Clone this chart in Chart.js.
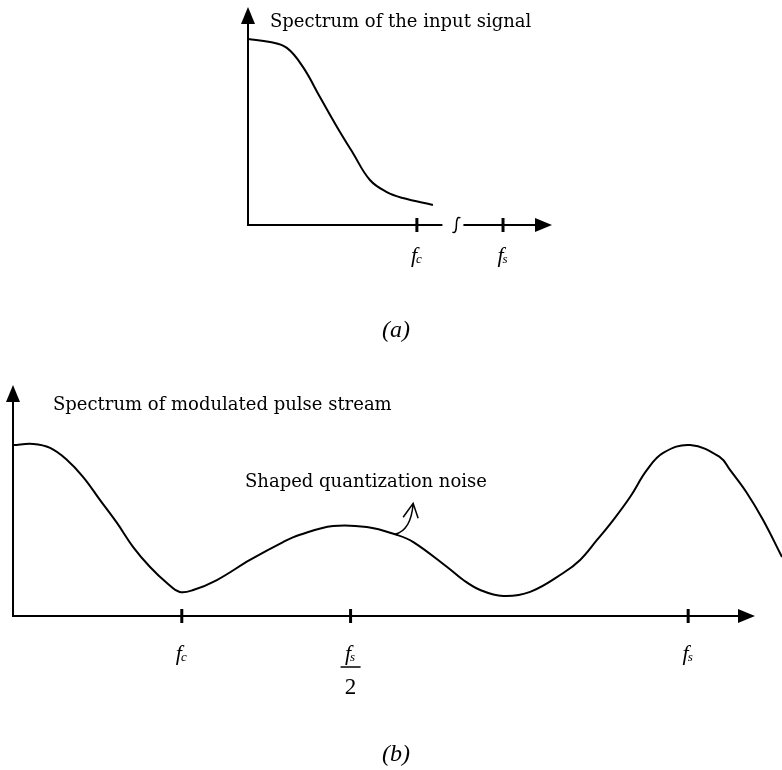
<!DOCTYPE html>
<html>
<head>
<meta charset="utf-8">
<script src="https://cdn.jsdelivr.net/npm/chart.js@4.4.1/dist/chart.umd.min.js"></script>
<style>
    body { margin: 0; background: #fff; }
    #quadro { position: relative; width: 782px; height: 770px; }
    #quadro canvas { position: absolute; left: 0; top: 0; }
</style>
</head>
<body>
<div id="quadro">
    <canvas id="graficoA" width="782" height="770"></canvas>
    <canvas id="graficoB" width="782" height="770"></canvas>
</div>
<script>
// (a) spectrum of the input signal, frequency in units of fc
const freqInput = [0, 0.13, 0.23, 0.325, 0.426, 0.527, 0.621, 0.722, 0.822, 0.917, 1.095];
const ampInput = [1.0, 0.984, 0.952, 0.85, 0.688, 0.527, 0.387, 0.242, 0.177, 0.145, 0.108];
const ticksInput = [1, 1.51];
const tickSubsInput = ['c', 's'];
const breakInput = 1.234;

// (b) spectrum of the modulated pulse stream, frequency in units of fs
const freqPulse = [0, 0.030, 0.055, 0.080, 0.104, 0.129, 0.154, 0.178, 0.203, 0.228, 0.247, 0.267,
    0.302, 0.351, 0.400, 0.425, 0.474, 0.524, 0.569, 0.593, 0.643, 0.667, 0.692, 0.726, 0.766,
    0.815, 0.840, 0.865, 0.889, 0.914, 0.939, 0.963, 1.003, 1.047, 1.062, 1.087, 1.111, 1.139];
const ampPulse = [0.994, 1.0, 0.977, 0.907, 0.808, 0.674, 0.541, 0.401, 0.285, 0.192, 0.140, 0.151,
    0.209, 0.326, 0.430, 0.472, 0.523, 0.517, 0.471, 0.430, 0.285, 0.209, 0.151, 0.116, 0.140,
    0.250, 0.326, 0.442, 0.558, 0.692, 0.849, 0.948, 0.994, 0.924, 0.849, 0.715, 0.558, 0.343];
const ticksPulse = [0.25, 0.5, 1];
const tickSubsPulse = ['c', 's/2', 's'];
const axisEndPulse = 1.099;
const noiseAnchor = [0.566, 0.475];

function arrowHead(ctx, tipX, tipY, dir) {
    ctx.beginPath();
    ctx.moveTo(tipX, tipY);
    if (dir == 'up') {
        ctx.lineTo(tipX - 7, tipY + 17);
        ctx.lineTo(tipX + 7, tipY + 17);
    } else {
        ctx.lineTo(tipX - 17, tipY - 7);
        ctx.lineTo(tipX - 17, tipY + 7);
    }
    ctx.closePath();
    ctx.fill();
}

// italic f with a small subscript, centred on x
function fLabel(ctx, x, y, sub) {
    ctx.textAlign = 'left';
    ctx.textBaseline = 'alphabetic';
    ctx.font = 'italic 22px "Liberation Serif"';
    const wf = ctx.measureText('f').width;
    ctx.font = 'italic 13px "Liberation Serif"';
    const ws = ctx.measureText(sub).width;
    const x0 = x - (wf + ws) / 2;
    ctx.font = 'italic 22px "Liberation Serif"';
    ctx.fillText('f', x0, y);
    ctx.font = 'italic 13px "Liberation Serif"';
    ctx.fillText(sub, x0 + wf - 1, y + 1);
}

function tickMark(ctx, x, y) {
    ctx.save();
    ctx.lineWidth = 3;
    ctx.beginPath();
    ctx.moveTo(x, y - 7);
    ctx.lineTo(x, y + 7);
    ctx.stroke();
    ctx.restore();
}

const eixosA = {
    id: 'eixosA',
    afterDraw(chart) {
        const ctx = chart.ctx;
        const xs = chart.scales.x, ys = chart.scales.y;
        const x0 = xs.getPixelForValue(0), y0 = ys.getPixelForValue(0);
        const yTop = ys.getPixelForValue(ys.max), xEnd = xs.getPixelForValue(xs.max);
        const xb = xs.getPixelForValue(breakInput);
        ctx.save();
        ctx.strokeStyle = '#000';
        ctx.fillStyle = '#000';
        ctx.lineWidth = 2;
        ctx.beginPath();
        ctx.moveTo(x0, y0);
        ctx.lineTo(x0, yTop + 10);
        ctx.moveTo(x0 - 1, y0);
        ctx.lineTo(xb - 14, y0);
        ctx.moveTo(xb + 7, y0);
        ctx.lineTo(xEnd - 10, y0);
        ctx.stroke();
        arrowHead(ctx, x0, yTop, 'up');
        arrowHead(ctx, xEnd, y0, 'right');

        // axis break
        ctx.lineWidth = 1.5;
        ctx.beginPath();
        ctx.moveTo(xb - 4, y0 + 7);
        ctx.bezierCurveTo(xb - 1, y0 + 9, xb, y0 + 5, xb, y0);
        ctx.bezierCurveTo(xb, y0 - 5, xb + 1, y0 - 9, xb + 4, y0 - 7);
        ctx.stroke();

        for (let i = 0; i < ticksInput.length; i++) {
            const px = xs.getPixelForValue(ticksInput[i]);
            tickMark(ctx, px, y0);
            fLabel(ctx, px, y0 + 37, tickSubsInput[i]);
        }

        ctx.textAlign = 'left';
        ctx.textBaseline = 'middle';
        ctx.font = '18px "DejaVu Serif"';
        ctx.fillText('Spectrum of the input signal', x0 + 22, yTop + 15);

        ctx.textAlign = 'center';
        ctx.font = 'italic 24px "Liberation Serif"';
        ctx.fillText('(a)', 396, 331);
        ctx.restore();
    }
};

const eixosB = {
    id: 'eixosB',
    afterDraw(chart) {
        const ctx = chart.ctx;
        const xs = chart.scales.x, ys = chart.scales.y;
        const x0 = xs.getPixelForValue(0), y0 = ys.getPixelForValue(0);
        const yTop = ys.getPixelForValue(ys.max), xEnd = xs.getPixelForValue(axisEndPulse);
        ctx.save();
        ctx.strokeStyle = '#000';
        ctx.fillStyle = '#000';
        ctx.lineWidth = 2;
        ctx.beginPath();
        ctx.moveTo(x0, y0);
        ctx.lineTo(x0, yTop + 10);
        ctx.moveTo(x0 - 1, y0);
        ctx.lineTo(xEnd - 10, y0);
        ctx.stroke();
        arrowHead(ctx, x0, yTop, 'up');
        arrowHead(ctx, xEnd, y0, 'right');

        for (let i = 0; i < ticksPulse.length; i++) {
            const px = xs.getPixelForValue(ticksPulse[i]);
            tickMark(ctx, px, y0);
            if (tickSubsPulse[i] == 's/2') {
                fLabel(ctx, px, y0 + 44, 's');
                ctx.lineWidth = 1.5;
                ctx.beginPath();
                ctx.moveTo(px - 10, y0 + 51);
                ctx.lineTo(px + 10, y0 + 51);
                ctx.stroke();
                ctx.textAlign = 'center';
                ctx.font = '23px "Liberation Serif"';
                ctx.fillText('2', px, y0 + 78);
            } else {
                fLabel(ctx, px, y0 + 44, tickSubsPulse[i]);
            }
        }

        // little arrow pointing at the noise bump
        const ax = xs.getPixelForValue(noiseAnchor[0]), ay = ys.getPixelForValue(noiseAnchor[1]);
        ctx.lineWidth = 1.5;
        ctx.beginPath();
        ctx.moveTo(ax, ay);
        ctx.quadraticCurveTo(ax + 16, ay - 4, ax + 18, ay - 31);
        ctx.moveTo(ax + 8, ay - 17);
        ctx.lineTo(ax + 18, ay - 31);
        ctx.lineTo(ax + 23, ay - 16);
        ctx.stroke();

        ctx.textAlign = 'left';
        ctx.textBaseline = 'middle';
        ctx.font = '18px "DejaVu Serif"';
        ctx.fillText('Spectrum of modulated pulse stream', x0 + 40, yTop + 20);
        ctx.fillText('Shaped quantization noise', 245, 482);

        ctx.textAlign = 'center';
        ctx.font = 'italic 24px "Liberation Serif"';
        ctx.fillText('(b)', 396, 755);
        ctx.restore();
    }
};

function baseOptions(padding, xMax, yMax) {
    return {
        responsive: false,
        animation: false,
        devicePixelRatio: 1,
        events: [],
        layout: { padding: padding },
        plugins: { legend: { display: false }, tooltip: { enabled: false } },
        scales: {
            x: { type: 'linear', display: false, min: 0, max: xMax },
            y: { type: 'linear', display: false, min: 0, max: yMax }
        }
    };
}

new Chart(document.getElementById('graficoA'), {
    type: 'scatter',
    data: {
        datasets: [{
            data: freqInput.map((f, i) => ({ x: f, y: ampInput[i] })),
            showLine: true,
            borderColor: '#000',
            borderWidth: 2,
            pointRadius: 0,
            tension: 0.4
        }]
    },
    options: baseOptions({ left: 248, right: 230, top: 7, bottom: 545 }, 1.8, 1.172),
    plugins: [eixosA]
});

new Chart(document.getElementById('graficoB'), {
    type: 'scatter',
    data: {
        datasets: [{
            data: freqPulse.map((f, i) => ({ x: f, y: ampPulse[i] })),
            showLine: true,
            borderColor: '#000',
            borderWidth: 2,
            pointRadius: 0,
            tension: 0.4
        }]
    },
    options: baseOptions({ left: 13, right: 0, top: 385, bottom: 154 }, 1.139, 1.343),
    plugins: [eixosB]
});
</script>
</body>
</html>
